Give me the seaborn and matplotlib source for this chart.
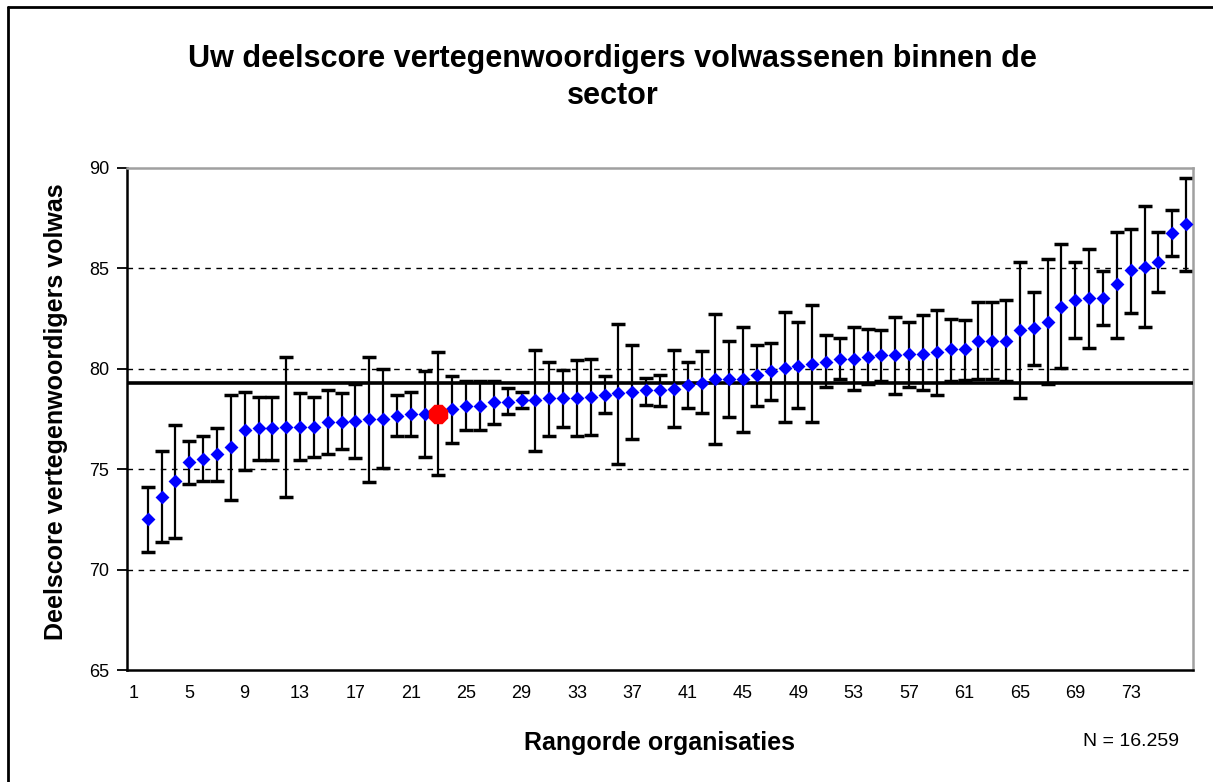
import numpy as np
import pandas as pd
import matplotlib.pyplot as plt
from matplotlib.lines import Line2D
import seaborn as sns

# Data (ranked organisations 2..77)
rang = list(range(2, 78))

score = [
    72.54, 73.62, 74.43, 75.35, 75.52, 75.78, 76.09, 76.95, 77.03, 77.03,
    77.10, 77.10, 77.10, 77.34, 77.34, 77.41, 77.50, 77.50, 77.65, 77.74,
    77.74, 77.74, 77.99, 78.13, 78.13, 78.35, 78.35, 78.46, 78.46, 78.54,
    78.54, 78.54, 78.61, 78.68, 78.77, 78.83, 78.92, 78.92, 79.01, 79.17,
    79.31, 79.47, 79.47, 79.47, 79.71, 79.88, 80.03, 80.15, 80.26, 80.34,
    80.51, 80.51, 80.60, 80.67, 80.67, 80.74, 80.74, 80.82, 80.98, 80.98,
    81.37, 81.37, 81.37, 81.92, 82.01, 82.32, 83.10, 83.43, 83.52, 83.52,
    84.20, 84.92, 85.06, 85.32, 86.74, 87.20,
]

upper = [
    74.12, 75.92, 77.19, 76.40, 76.66, 77.07, 78.70, 78.85, 78.61, 78.61,
    80.57, 78.77, 78.61, 78.95, 78.77, 79.23, 80.57, 79.97, 78.68, 78.85,
    79.88, 80.82, 79.62, 79.40, 79.40, 79.40, 79.06, 78.83, 80.96, 80.34,
    79.95, 80.43, 80.50, 79.62, 82.23, 81.20, 79.54, 79.71, 80.96, 80.34,
    80.91, 82.73, 81.39, 82.08, 81.20, 81.29, 82.83, 82.35, 83.17, 81.70,
    81.53, 82.08, 81.97, 81.92, 82.57, 82.35, 82.66, 82.93, 82.49, 82.45,
    83.31, 83.31, 83.43, 85.32, 83.83, 85.49, 86.21, 85.32, 85.95, 84.85,
    86.81, 86.98, 88.10, 86.81, 87.89, 89.52,
]

lower = [
    70.87, 71.37, 71.56, 74.25, 74.43, 74.43, 73.46, 74.97, 75.45, 75.45,
    73.64, 75.45, 75.63, 75.75, 76.02, 75.54, 74.34, 75.08, 76.66, 76.66,
    75.63, 74.73, 76.28, 76.95, 76.95, 77.26, 77.74, 78.03, 75.92, 76.66,
    77.12, 76.66, 76.71, 77.80, 75.28, 76.48, 78.20, 78.13, 77.12, 78.06,
    77.80, 76.23, 77.60, 76.86, 78.13, 78.46, 77.34, 78.06, 77.34, 79.09,
    79.47, 78.92, 79.23, 79.40, 78.75, 79.09, 78.95, 78.68, 79.40, 79.43,
    79.47, 79.47, 79.40, 78.54, 80.17, 79.23, 80.05, 81.53, 81.06, 82.18,
    81.53, 82.80, 82.06, 83.83, 85.63, 84.85,
]

eigen_rang = 23          # your organisation (red marker)
sector_gemiddelde = 79.31
n_label = "N = 16.259"

df = pd.DataFrame({"rang": rang, "score": score, "upper": upper, "lower": lower})
eigen = df[df["rang"] == eigen_rang]

# =========================
# Figure
# =========================

sns.set_style("white")
plt.rcParams["font.family"] = ["Liberation Sans", "DejaVu Sans"]
plt.rcParams["text.color"] = "black"
plt.rcParams["axes.labelcolor"] = "black"
plt.rcParams["xtick.color"] = "black"
plt.rcParams["ytick.color"] = "black"

fig = plt.figure(figsize=(12.13, 7.82), dpi=100)
ax = fig.add_axes([0.1047, 0.1432, 0.8788, 0.642])

for y in [70, 75, 80, 85]:
    ax.axhline(y, color="black", linestyle=(0, (4, 4)), linewidth=1, zorder=1)

ax.errorbar(
    df["rang"],
    df["score"],
    yerr=[df["score"] - df["lower"], df["upper"] - df["score"]],
    fmt="none",
    ecolor="black",
    elinewidth=1.6,
    capsize=5,
    capthick=2.5,
    zorder=2,
)

ax.axhline(sector_gemiddelde, color="black", linewidth=2.6, zorder=3)

sns.scatterplot(
    data=df,
    x="rang",
    y="score",
    marker="D",
    color="#0000ff",
    s=50,
    linewidth=0,
    ax=ax,
    zorder=4,
)

sns.scatterplot(
    data=eigen,
    x="rang",
    y="score",
    marker="8",
    color="#ff0000",
    s=230,
    linewidth=0,
    ax=ax,
    zorder=5,
)

ax.set_xlim(0.5, 77.5)
ax.set_ylim(65, 90)

ax.set_yticks([65, 70, 75, 80, 85, 90])
ax.set_xticks(list(range(1, 77, 4)))
ax.set_xticks(np.arange(0.5, 78, 1), minor=True)
ax.tick_params(axis="x", which="major", length=0, pad=11, labelsize=13)
ax.tick_params(axis="x", which="minor", direction="out", length=6, width=1.3, color="black")
ax.tick_params(axis="y", direction="out", length=7, width=1.3, color="black",
               labelsize=13, pad=6, left=True)

for side in ["left", "bottom"]:
    ax.spines[side].set_color("black")
    ax.spines[side].set_linewidth(1.8)
for side in ["top", "right"]:
    ax.spines[side].set_color("#a0a0a0")
    ax.spines[side].set_linewidth(1.8)

ax.set_xlabel("Rangorde organisaties", fontsize=18, fontweight="bold", labelpad=21)
ax.set_ylabel("")

fig.text(0.046, 0.473, "Deelscore vertegenwoordigers volwas", rotation=90,
         fontsize=18, fontweight="bold", ha="center", va="center")

fig.text(0.505, 0.925, "Uw deelscore vertegenwoordigers volwassenen binnen de",
         fontsize=22, fontweight="bold", ha="center", va="center")
fig.text(0.505, 0.877, "sector", fontsize=22, fontweight="bold", ha="center", va="center")

fig.text(0.932, 0.052, n_label, fontsize=14, ha="center", va="center")

# outer chart frame (left and top visible)
fig.add_artist(Line2D([0.0066, 0.0066], [0, 0.991], transform=fig.transFigure,
                      color="black", linewidth=2))
fig.add_artist(Line2D([0.0066, 1], [0.991, 0.991], transform=fig.transFigure,
                      color="black", linewidth=2))

plt.savefig("out.png", dpi=100)
plt.close()
